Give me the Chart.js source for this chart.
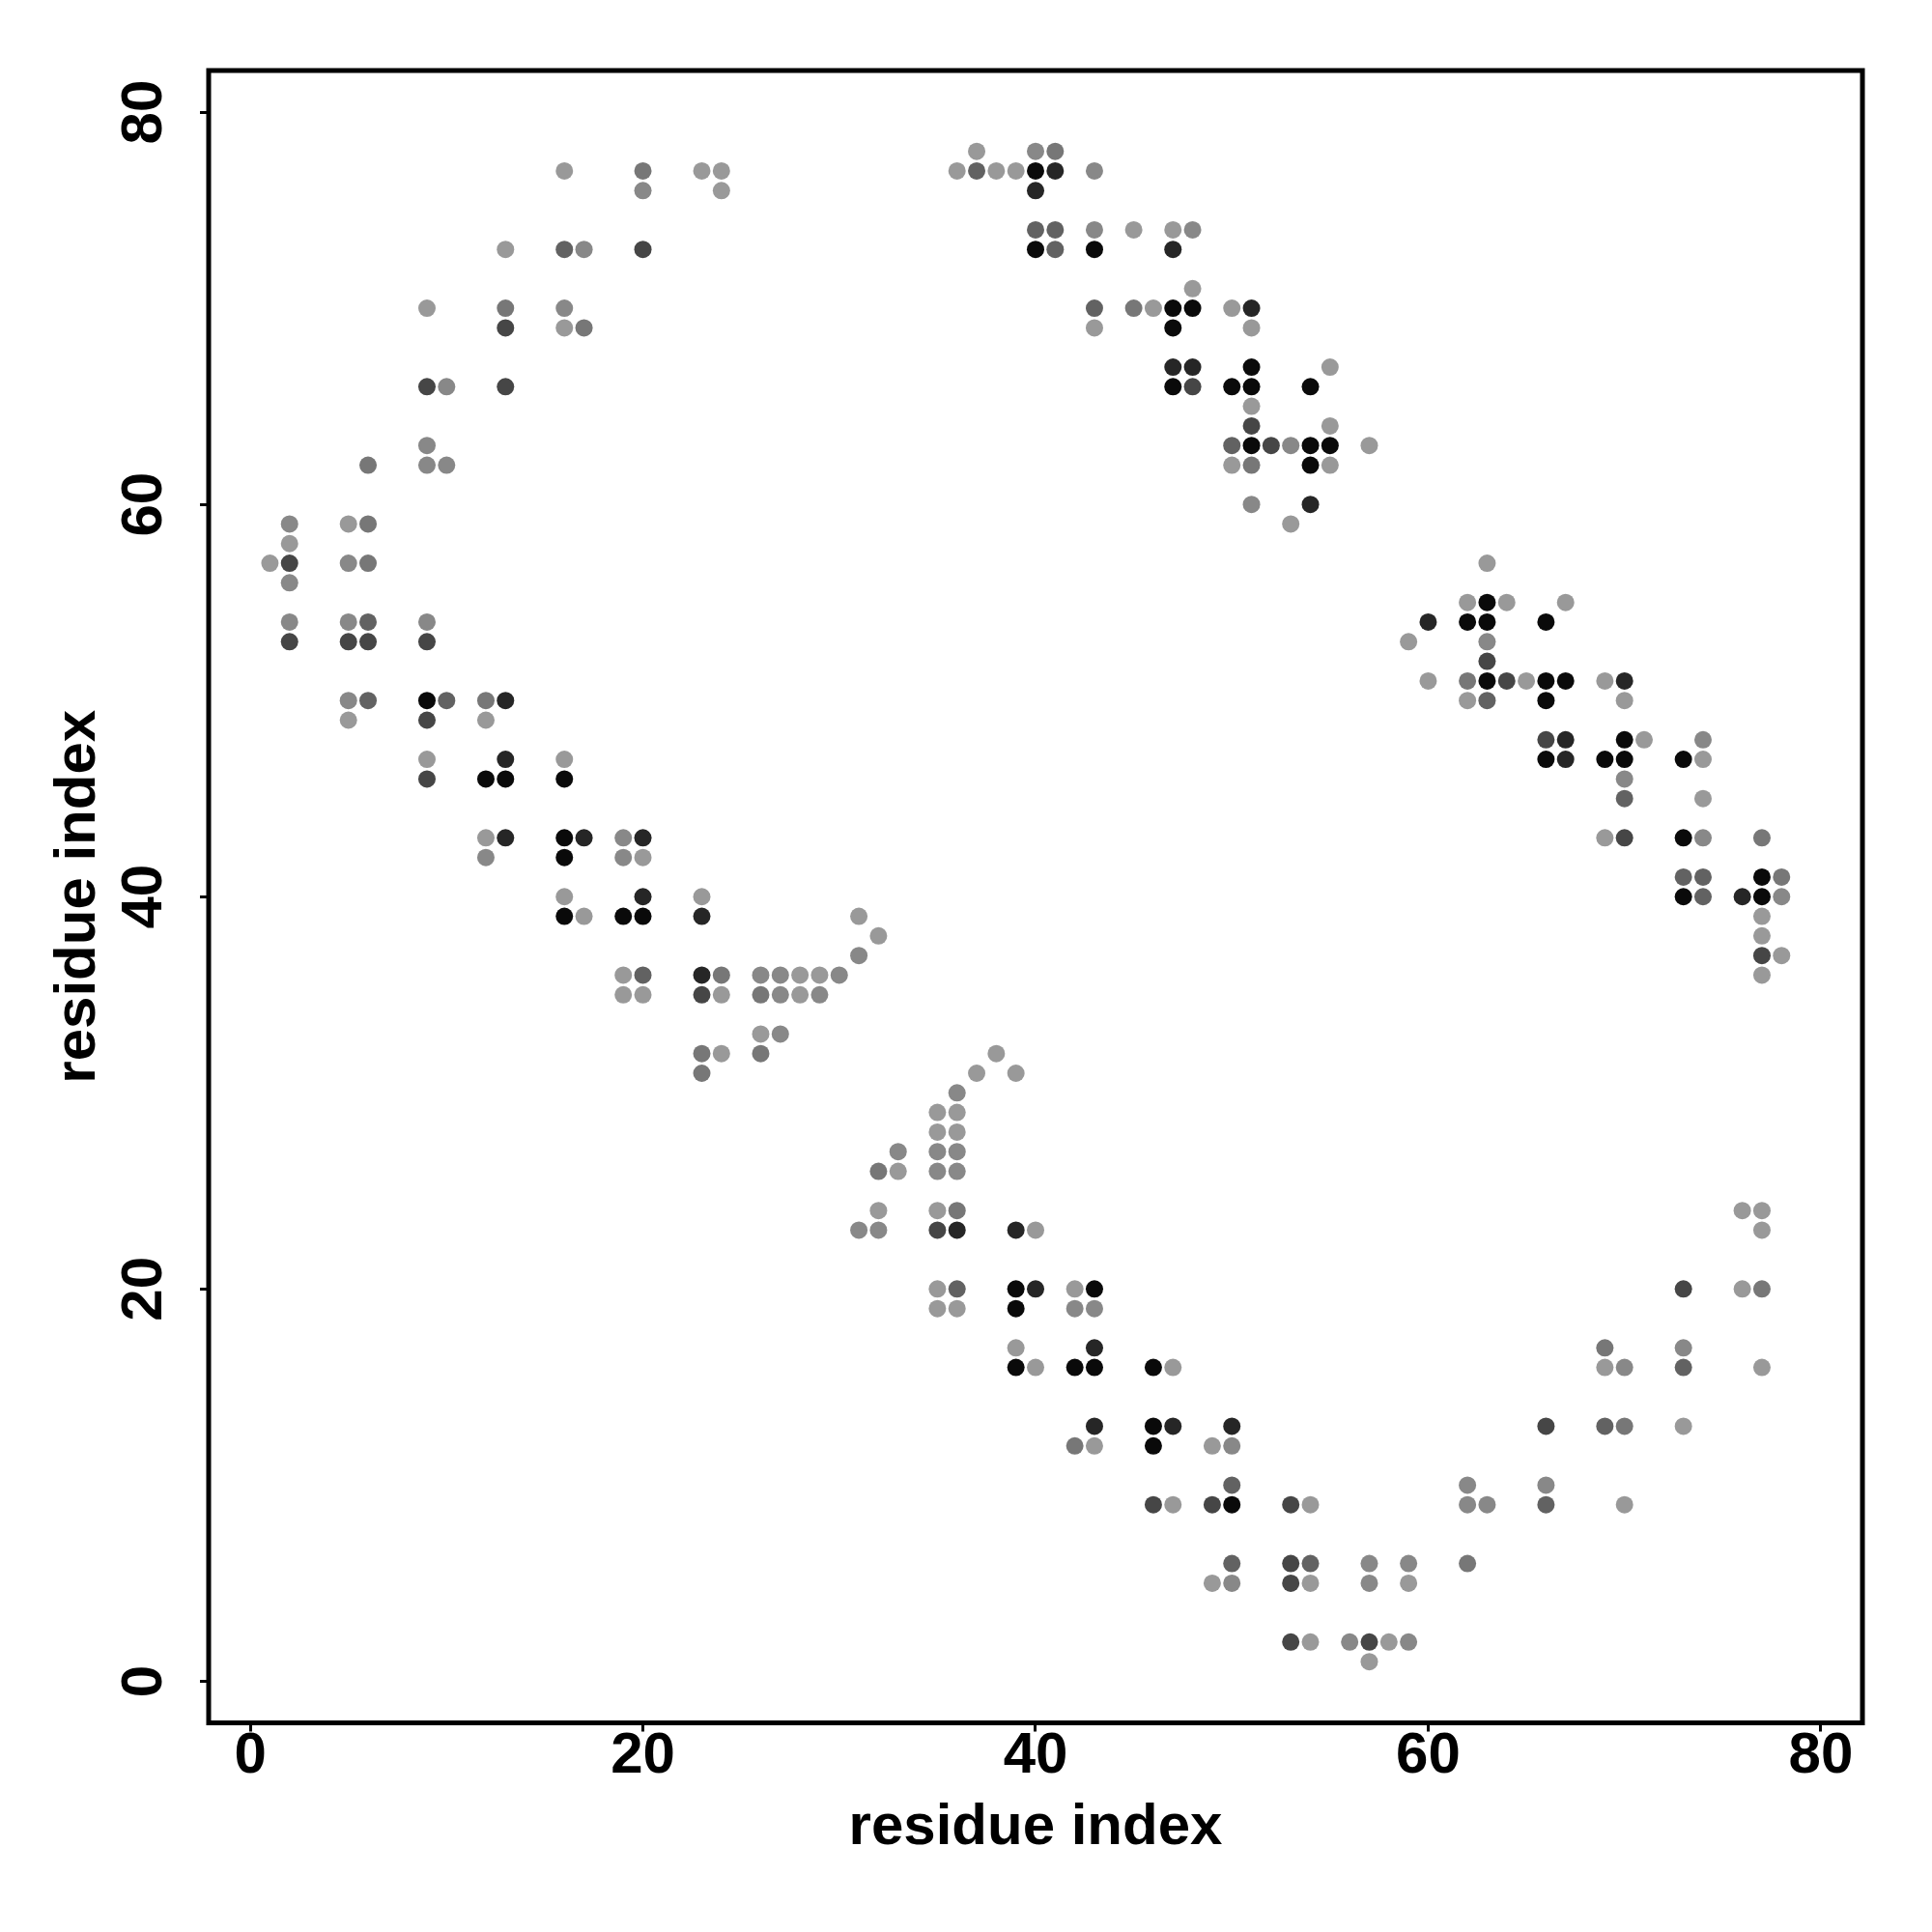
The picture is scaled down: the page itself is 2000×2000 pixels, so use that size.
<!DOCTYPE html>
<html>
<head>
<meta charset="utf-8">
<script src="https://cdn.jsdelivr.net/npm/chart.js@4.4.0/dist/chart.umd.min.js"></script>
<style>html,body{margin:0;padding:0;background:#fff;}canvas{display:block;}</style>
</head>
<body>
<canvas id="c" width="2000" height="2000"></canvas>
<script>
// ---- data ----
const tickValues = [0, 20, 40, 60, 80];
const axisTitle = 'residue index';

// contacts grouped by shade (darkest -> lightest)
const blackPts = [[9,50],[12,46],[13,46],[16,46],[16,43],[16,42],[16,39],[19,39],[20,39],
  [40,77],[40,73],[43,73],[47,70],[48,70],[47,69],[47,66],[51,67],[50,66],[51,66],[51,63],[54,63],[55,63],[54,62],[54,66],
  [63,55],[62,54],[63,54],[66,54],[63,51],[66,51],[67,51],[66,50],[66,47],[70,48],[69,47],[70,47],[73,47],[73,43],[73,40],[77,41],[77,40],
  [39,20],[39,19],[43,20],[39,16],[42,16],[43,16],
  [46,16],[46,13],[46,12],[50,9]];
const veryDarkPts = [[13,50],[13,47],[13,43],[17,43],[20,43],[20,40],[23,39],[23,36],
  [41,77],[40,76],[47,73],[51,70],[47,67],[48,67],[54,60],
  [60,54],[70,51],[67,48],[67,47],[76,40],
  [36,23],[39,23],[40,20],[43,17],[43,13],
  [47,13],[50,13]];
const darkPts = [[2,57],[2,53],[5,53],[6,53],[9,53],[9,49],[9,46],[23,35],
  [20,73],[13,69],[9,66],[13,66],
  [48,66],[51,64],[52,63],
  [63,52],[64,51],[66,48],[70,43],[77,37],
  [35,23],
  [46,9],[49,9],[53,9],[53,6],[53,5],[53,2],[57,2],
  [73,20],[66,13]];
const midDarkPts = [[6,54],[6,50],[10,50],[20,36],
  [16,73],
  [37,77],[40,74],[41,74],[41,73],[43,70],[50,63],
  [63,50],[70,45],[73,41],[74,41],[74,40],
  [36,20],
  [50,10],[50,6],[54,6],
  [73,16],[69,13],[66,9]];
const midPts = [[6,59],[6,57],[12,50],[24,36],[26,35],[26,32],[23,32],[23,31],
  [20,77],[13,70],[17,69],[6,62],
  [41,78],[45,70],[51,62],
  [62,51],[77,43],[78,41],
  [32,26],[36,24],[42,12],
  [77,20],[69,17],[70,13],[62,6]];
const midLightPts = [[2,59],[2,56],[5,57],[2,54],[5,54],[9,54],[5,50],[12,42],[19,43],[19,42],[26,36],[27,36],[30,36],[27,35],[29,35],[31,37],[27,33],
  [20,76],[17,73],[16,70],[10,66],[9,63],[9,62],[10,62],
  [40,78],[43,77],[43,74],[48,74],[53,63],[51,60],
  [63,53],[70,46],[74,48],[74,43],[78,40],
  [36,30],[35,27],[36,27],[33,27],[35,26],[36,26],[31,23],[32,23],[42,19],[43,19],
  [50,12],[50,5],[57,6],[59,6],[57,5],[56,2],[59,2],
  [70,16],[73,17],[62,10],[62,9],[63,9],[66,10]];
const lightPts = [[2,58],[1,57],[5,59],[5,49],[12,49],[9,47],[16,47],[12,43],[20,42],[16,40],[17,39],[23,40],[19,36],[19,35],[20,35],[24,35],[28,36],[29,36],[28,35],[31,39],[32,38],[26,33],[24,32],
  [16,77],[23,77],[24,77],[24,76],[13,73],[9,70],[16,69],
  [37,78],[36,77],[38,77],[39,77],[45,74],[47,74],[48,71],[43,69],[46,70],[50,70],[51,69],[51,65],[50,62],[55,62],[55,67],[55,64],[53,59],[57,63],
  [63,57],[62,55],[64,55],[67,55],[59,53],[60,51],[65,51],[62,50],[69,51],[70,50],[71,48],[74,47],[74,45],[69,43],[77,39],[77,38],[78,37],[77,36],
  [38,32],[37,31],[39,31],[35,29],[36,29],[35,28],[36,28],[33,26],[32,24],[35,24],[40,23],[35,20],[35,19],[36,19],[42,20],[39,17],[40,16],[43,12],
  [47,16],[49,12],[47,9],[54,9],[49,5],[54,5],[59,5],[54,2],[58,2],[57,1],
  [76,24],[77,24],[77,23],[76,20],[69,16],[77,16],[73,13],[70,9]];

const groups = [
  {pts: lightPts, color: '#999999'},
  {pts: midLightPts, color: '#888888'},
  {pts: midPts, color: '#777777'},
  {pts: midDarkPts, color: '#626262'},
  {pts: darkPts, color: '#464646'},
  {pts: veryDarkPts, color: '#262626'},
  {pts: blackPts, color: '#0a0a0a'}
];

const FONT = "'Liberation Sans', Arial, Helvetica, sans-serif";

const framePlugin = {
  id: 'frame',
  afterDatasetsDraw(chart) {
    const {ctx, chartArea: a} = chart;
    ctx.save();
    ctx.lineWidth = 5;
    ctx.strokeStyle = '#000';
    ctx.strokeRect(a.left, a.top, a.right - a.left, a.bottom - a.top);
    ctx.restore();
  }
};

const gridOpts = {
  display: true, drawOnChartArea: false, drawTicks: true,
  tickLength: 9, tickWidth: 3, tickColor: '#000'
};

new Chart(document.getElementById('c'), {
  type: 'scatter',
  data: {
    datasets: groups.map(g => ({
      data: g.pts.map(p => ({x: p[0], y: p[1]})),
      backgroundColor: g.color,
      borderWidth: 0,
      pointRadius: 9,
      pointHoverRadius: 9
    }))
  },
  options: {
    responsive: false,
    animation: false,
    devicePixelRatio: 1,
    layout: {padding: {left: 0, right: 72, top: 73, bottom: 0}},
    plugins: {legend: {display: false}, tooltip: {enabled: false}},
    scales: {
      x: {
        type: 'linear', position: 'bottom', min: -2.12, max: 82.12,
        afterBuildTicks: s => { s.ticks = tickValues.map(v => ({value: v})); },
        afterFit: s => { s.height = 216.5; },
        border: {display: false},
        grid: gridOpts,
        ticks: {
          color: '#000', padding: 1.5, maxRotation: 0, autoSkip: false,
          font: {family: FONT, size: 60, weight: 'bold', lineHeight: 0.8}
        },
        title: {
          display: true, text: axisTitle, color: '#000',
          font: {family: FONT, size: 60, weight: 'bold', lineHeight: 1.2},
          padding: {top: 0, bottom: 72}
        }
      },
      y: {
        type: 'linear', position: 'left', min: -2.12, max: 82.12,
        afterBuildTicks: s => { s.ticks = tickValues.map(v => ({value: v})); },
        afterFit: s => { s.width = 216; },
        border: {display: false},
        grid: gridOpts,
        ticks: {
          color: '#000', padding: 23.6, minRotation: 90, maxRotation: 90,
          crossAlign: 'center', autoSkip: false,
          font: {family: FONT, size: 60, weight: 'bold', lineHeight: 1.2}
        },
        title: {
          display: true, text: axisTitle, color: '#000',
          font: {family: FONT, size: 60, weight: 'bold', lineHeight: 1.2},
          padding: {top: 45, bottom: 0}
        }
      }
    }
  },
  plugins: [framePlugin]
});
</script>
</body>
</html>
